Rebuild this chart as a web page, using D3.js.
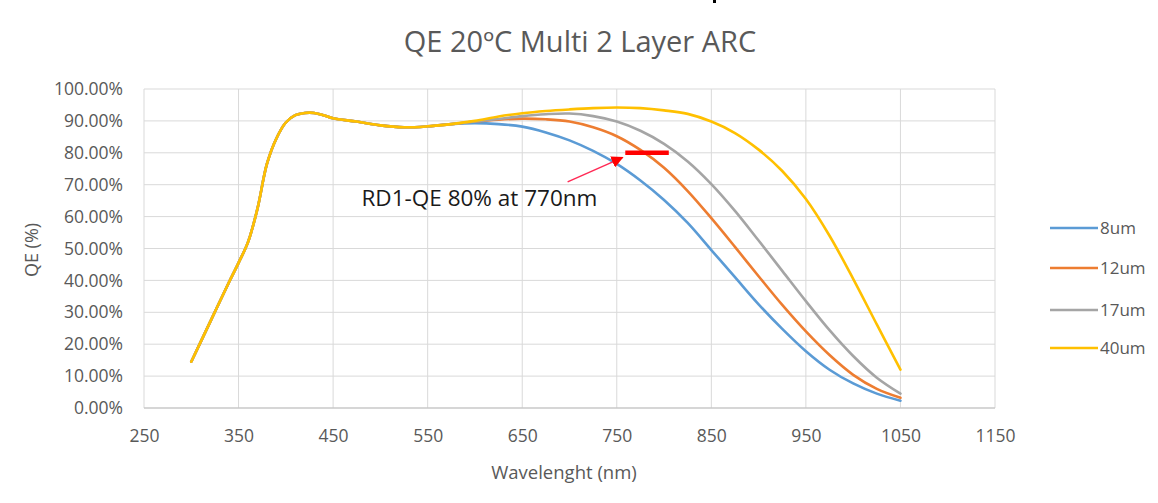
<!DOCTYPE html>
<html>
<head>
    <meta charset="utf-8">
    <title>QE 20ºC Multi 2 Layer ARC</title>
    <script type="text/javascript" src="https://cdn.jsdelivr.net/npm/d3@7"></script>
    <style>
      body { margin: 0; background: #fff; }
      text { font-family: "Open Sans", sans-serif; fill: #595959; }
    </style>
</head>
<body>
<script type="text/javascript">

    var width = 1158
    var height = 503

    // wavelength (nm) and QE (%)
    var wavelengths = [300,320,340,350,360,370,380,390,400,410,420,430,440,450,475,500,525,550,575,600,625,650,675,700,725,750,775,800,825,850,875,900,925,950,975,1000,1025,1050]
    var qe8  = [14.5,27,39.5,45.5,52,62.5,76.5,84.5,89.5,91.8,92.5,92.5,91.8,90.8,89.8,88.6,88,88.3,89,89.3,89,88.2,86.4,83.9,80.6,76.5,71.3,65.2,58,49.5,41,32.5,24.8,17.8,12,7.7,4.5,2.3]
    var qe12 = [14.5,27,39.5,45.5,52,62.5,76.5,84.5,89.5,91.8,92.5,92.5,91.8,90.8,89.8,88.6,88,88.3,89,89.8,90.4,90.7,90.5,89.8,88,85.2,80.9,75.3,68,59.5,50.5,41.3,32.3,24,16.6,10.4,6,3.2]
    var qe17 = [14.5,27,39.5,45.5,52,62.5,76.5,84.5,89.5,91.8,92.5,92.5,91.8,90.8,89.8,88.6,88,88.3,89,89.8,90.6,91.5,92.1,92.3,91.5,89.8,86.9,82.8,77.3,70.2,61.8,52.5,43,33.5,24.4,16.3,9.5,4.5]
    var qe40 = [14.5,27,39.5,45.5,52,62.5,76.5,84.5,89.5,91.8,92.5,92.5,91.8,90.8,89.8,88.6,88,88.3,89,90,91.4,92.4,93.1,93.6,94,94.2,94,93.3,92.2,89.8,86.2,81,74.3,65.5,54,40.5,26.2,12]

    var seriesNames = ["8um","12um","17um","40um"]
    var seriesColors = ["#5b9bd5","#ed7d31","#a5a5a5","#ffc000"]
    var seriesValues = [qe8, qe12, qe17, qe40]

    var xTicks = [250,350,450,550,650,750,850,950,1050,1150]
    var yTicks = [0,10,20,30,40,50,60,70,80,90,100]

    // annotation: target bar, arrow and label
    var targetBar = [[759,80],[805,80]]
    var arrowLine = [[698,70.9],[756,78.5]]
    var noteText = "RD1-QE 80% at 770nm"
    var notePos = [480,63.2]

    var svg = d3.select("body").append("svg").attr("width",width).attr("height",height)

    var x = d3.scaleLinear().domain([250,1150]).range([144,995])
    var y = d3.scaleLinear().domain([0,100]).range([408,89])

    // stray mark at the top of the screenshot
    svg.append("rect").attr("x",713).attr("y",0).attr("width",3).attr("height",3).attr("fill","#000")

    // gridlines
    svg.selectAll(".hgrid").data(yTicks).enter().append("line")
        .attr("x1",x(250)).attr("x2",x(1150))
        .attr("y1",function(d){ return y(d) }).attr("y2",function(d){ return y(d) })
        .attr("stroke","#d9d9d9").attr("stroke-width",1)
    svg.selectAll(".vgrid").data(xTicks).enter().append("line")
        .attr("y1",y(0)).attr("y2",y(100))
        .attr("x1",function(d){ return x(d) }).attr("x2",function(d){ return x(d) })
        .attr("stroke","#d9d9d9").attr("stroke-width",1)
    svg.append("line").attr("x1",x(250)).attr("x2",x(1150)).attr("y1",y(0)).attr("y2",y(0))
        .attr("stroke","#bfbfbf").attr("stroke-width",1.2)

    // axes
    var yAxis = d3.axisLeft(y).tickValues(yTicks).tickSize(0).tickPadding(21)
        .tickFormat(function(d){ return d3.format(".2f")(d) + "%" })
    svg.append("g").attr("transform","translate(" + x(250) + ",0)").call(yAxis)
        .call(function(g){ g.select(".domain").remove() })
        .selectAll("text").attr("font-size",17.5).attr("fill","#595959").attr("font-family","Open Sans")

    var xAxis = d3.axisBottom(x).tickValues(xTicks).tickSize(0).tickPadding(22)
        .tickFormat(d3.format("d"))
    svg.append("g").attr("transform","translate(0," + y(0) + ")").call(xAxis)
        .call(function(g){ g.select(".domain").remove() })
        .selectAll("text").attr("font-size",17.5).attr("fill","#595959").attr("font-family","Open Sans")

    // titles
    svg.append("text").attr("x",580).attr("y",52).attr("text-anchor","middle")
        .attr("font-size",29).text("QE 20ºC Multi 2 Layer ARC")
    svg.append("text").attr("x",564).attr("y",479).attr("text-anchor","middle")
        .attr("font-size",18.5).text("Wavelenght (nm)")
    svg.append("text").attr("transform","translate(38,250) rotate(-90)").attr("text-anchor","middle")
        .attr("font-size",18).text("QE (%)")

    // curves
    var line = d3.line()
        .x(function(d){ return x(d[0]) })
        .y(function(d){ return y(d[1]) })
        .curve(d3.curveCatmullRom.alpha(0.5))

    seriesValues.forEach(function(vals, i){
        var pts = wavelengths.map(function(w, j){ return [w, vals[j]] })
        svg.append("path").attr("d", line(pts))
            .attr("fill","none").attr("stroke",seriesColors[i]).attr("stroke-width",2.6)
            .attr("stroke-linejoin","round").attr("stroke-linecap","round")
    })

    // annotation
    svg.append("defs").append("marker").attr("id","head")
        .attr("viewBox","0 0 10 10").attr("refX",9).attr("refY",5)
        .attr("markerWidth",8).attr("markerHeight",8).attr("orient","auto")
        .append("path").attr("d","M0,0L10,5L0,10z").attr("fill","#ff0000")
    svg.append("line")
        .attr("x1",x(arrowLine[0][0])).attr("y1",y(arrowLine[0][1]))
        .attr("x2",x(arrowLine[1][0])).attr("y2",y(arrowLine[1][1]))
        .attr("stroke","#ff2a55").attr("stroke-width",1.5).attr("marker-end","url(#head)")
    svg.append("line")
        .attr("x1",x(targetBar[0][0])).attr("y1",y(targetBar[0][1]))
        .attr("x2",x(targetBar[1][0])).attr("y2",y(targetBar[1][1]))
        .attr("stroke","#ff0000").attr("stroke-width",4.5)
    svg.append("text").attr("x",x(notePos[0])).attr("y",y(notePos[1]))
        .attr("font-size",22.5).style("fill","#1a1a1a").text(noteText)

    // legend
    var legendY = [228,268,310,348]
    seriesNames.forEach(function(name, i){
        svg.append("line").attr("x1",1050).attr("x2",1098)
            .attr("y1",legendY[i]).attr("y2",legendY[i])
            .attr("stroke",seriesColors[i]).attr("stroke-width",2.6)
        svg.append("text").attr("x",1100).attr("y",legendY[i] + 6)
            .attr("font-size",17).text(name)
    })
</script>
</body>
</html>
